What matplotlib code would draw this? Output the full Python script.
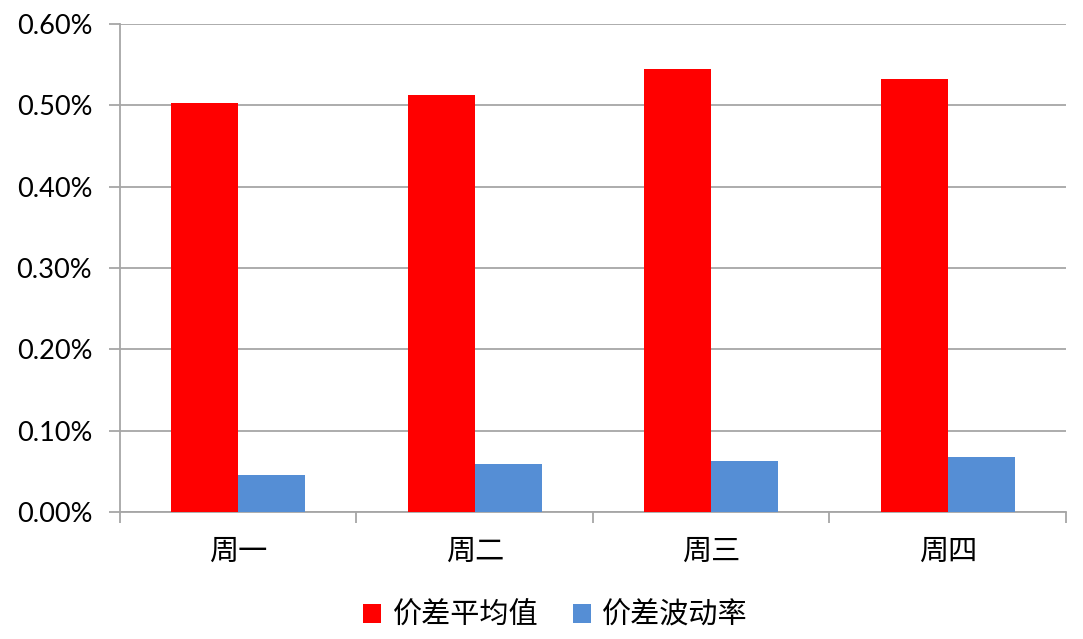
import matplotlib.pyplot as plt
import numpy as np
from matplotlib.ticker import FuncFormatter

# Data (percent)
categories = ['周一', '周二', '周三', '周四']
spread_mean = [0.503, 0.513, 0.545, 0.532]
spread_vol = [0.045, 0.059, 0.063, 0.068]
series_names = ['价差平均值', '价差波动率']

plt.rcParams['font.family'] = ['Lato', 'Noto Sans CJK SC', 'DejaVu Sans']

fig = plt.figure(figsize=(10.83, 6.39), dpi=100)
ax = fig.add_axes([0.1108, 0.1987, 0.8735, 0.7637])

x = np.arange(len(categories))
w = 0.283
ax.bar(x - w / 2, spread_mean, w, color='#ff0000', label=series_names[0], zorder=3)
ax.bar(x + w / 2, spread_vol, w, color='#558ed5', label=series_names[1], zorder=3)

ax.set_xlim(-0.5, len(categories) - 0.5)
ax.set_ylim(0, 0.6)
ax.set_yticks(np.arange(0, 0.61, 0.1))
ax.yaxis.set_major_formatter(FuncFormatter(lambda v, p: f'{v:.2f}%'))
ax.yaxis.grid(True, color='#a6a6a6', lw=1.3, zorder=0)

for s in ['top', 'right']:
    ax.spines[s].set_visible(False)
for s in ['left', 'bottom']:
    ax.spines[s].set_color('#a6a6a6')
    ax.spines[s].set_linewidth(1.3)

ax.set_xticks(x)
ax.set_xticklabels(categories, family=['Noto Sans CJK SC'], fontsize=21)
ax.tick_params(axis='x', length=0, pad=18)
ax.set_xticks(np.arange(-0.5, len(categories), 1), minor=True)
ax.tick_params(axis='x', which='minor', length=8, width=1.3, color='#a6a6a6')
ax.tick_params(axis='y', length=8, width=1.3, color='#a6a6a6', labelsize=19.5, pad=12)

fig.legend(loc='center', bbox_to_anchor=(0.513, 0.036), ncol=2, frameon=False,
           prop={'family': 'Noto Sans CJK SC', 'size': 21},
           handlelength=0.6, handleheight=0.6, handletextpad=0.4, columnspacing=1.2)

fig.savefig('out.png', dpi=100)
